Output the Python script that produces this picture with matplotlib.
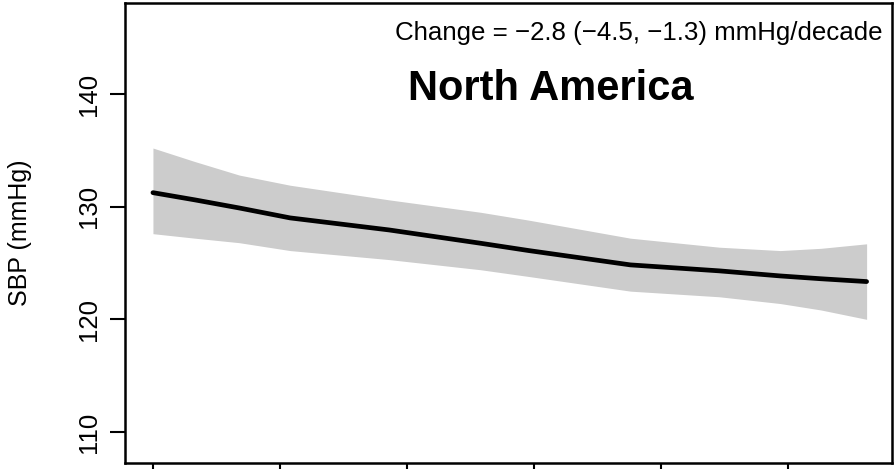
import matplotlib
matplotlib.use("Agg")
import matplotlib.pyplot as plt

plt.rcParams["font.family"] = ["Liberation Sans", "DejaVu Sans"]

# fitted SBP trend with 95% band
years = [1980.0, 1981.65, 1983.4, 1985.4, 1989.3, 1992.9, 1994.8, 1998.8, 2002.3, 2004.7, 2006.3, 2008.1]
sbp_fit = [131.24, 130.6, 129.88, 129.0, 127.93, 126.75, 126.1, 124.83, 124.3, 123.85, 123.6, 123.35]
sbp_upper = [135.2, 134.0, 132.8, 131.9, 130.6, 129.5, 128.8, 127.2, 126.4, 126.1, 126.3, 126.7]
sbp_lower = [127.6, 127.2, 126.8, 126.1, 125.3, 124.4, 123.8, 122.5, 122.0, 121.4, 120.83, 120.0]

y_ticks = [110, 120, 130, 140]
x_ticks = [1980, 1985, 1990, 1995, 2000, 2005]

region = "North America"
change_label = "Change = \u22122.8 (\u22124.5, \u22121.3) mmHg/decade"

fig = plt.figure(figsize=(8.95, 4.69), dpi=100)
ax = fig.add_axes([125 / 895, 6 / 469, 767 / 895, 460 / 469])

ax.fill_between(years, sbp_lower, sbp_upper, color="#cccccc", linewidth=0)
ax.plot(years, sbp_fit, color="black", linewidth=3.4, solid_capstyle="round")

ax.set_xlim(1978.9, 2009.1)
ax.set_ylim(107.25, 148.07)
ax.set_yticks(y_ticks)
ax.set_yticklabels([str(v) for v in y_ticks], rotation=90, va="center", fontsize=18.5)
ax.set_xticks(x_ticks)
ax.set_xticklabels([])
ax.tick_params(axis="both", direction="out", length=11, width=1.5, pad=6)

for sp in ax.spines.values():
    sp.set_linewidth(1.8)

fig.text(20 / 895, 1 - 233 / 469, "SBP (mmHg)", rotation=90, ha="center", va="center",
         fontsize=18)

ax.text(0.555, 0.789, region, transform=ax.transAxes, ha="center", va="baseline",
        fontsize=30, fontweight="bold")
ax.text(0.988, 0.9196, change_label, transform=ax.transAxes, ha="right", va="baseline",
        fontsize=18.6)

fig.savefig("out.png", dpi=100)
